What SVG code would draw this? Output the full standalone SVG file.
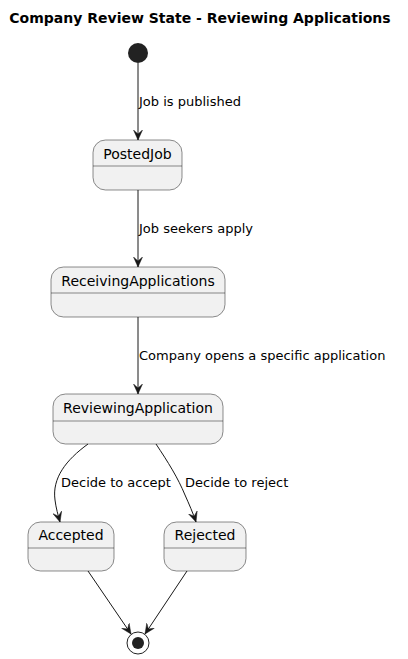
<svg xmlns="http://www.w3.org/2000/svg" width="408" height="659" viewBox="0 0 408 659">
<defs>
<style>
.st{fill:#F1F1F1;stroke:#181818;stroke-width:0.5}
.dv{stroke:#181818;stroke-width:0.5}
.nm{font-family:"DejaVu Sans",sans-serif;font-size:14px;fill:#000;text-anchor:middle}
.lb{font-family:"DejaVu Sans",sans-serif;font-size:13px;fill:#000}
.ln{fill:none;stroke:#181818;stroke-width:1}
.title{font-family:"DejaVu Sans",sans-serif;font-size:14px;font-weight:bold;fill:#000;text-anchor:middle}
</style>
<marker id="ah" viewBox="0 0 10 10" refX="10" refY="5" markerWidth="10" markerHeight="10" markerUnits="userSpaceOnUse" orient="auto">
<polygon points="0,0.5 10,5 0,9.5 4,5" fill="#181818" stroke="#181818" stroke-width="0.5"/>
</marker>
</defs>
<rect width="408" height="659" fill="#FFFFFF"/>
<text class="title" x="200" y="23">Company Review State - Reviewing Applications</text>

<g id="start"><circle cx="138" cy="53" r="10" fill="#222222"/></g>

<g id="PostedJob">
<rect class="st" x="93" y="140" width="89" height="50" rx="12.5"/>
<line class="dv" x1="93" y1="166" x2="182" y2="166"/>
<text class="nm" x="137.5" y="159">PostedJob</text>
</g>

<g id="ReceivingApplications">
<rect class="st" x="51" y="267" width="174" height="50" rx="12.5"/>
<line class="dv" x1="51" y1="293" x2="225" y2="293"/>
<text class="nm" x="138" y="286">ReceivingApplications</text>
</g>

<g id="ReviewingApplication">
<rect class="st" x="53" y="394" width="170" height="50" rx="12.5"/>
<line class="dv" x1="53" y1="421" x2="223" y2="421"/>
<text class="nm" x="138" y="413">ReviewingApplication</text>
</g>

<g id="Accepted">
<rect class="st" x="28" y="522" width="86" height="49" rx="12.5"/>
<line class="dv" x1="28" y1="548" x2="114" y2="548"/>
<text class="nm" x="71" y="540">Accepted</text>
</g>

<g id="Rejected">
<rect class="st" x="164" y="522" width="82" height="49" rx="12.5"/>
<line class="dv" x1="164" y1="548" x2="246" y2="548"/>
<text class="nm" x="205" y="540">Rejected</text>
</g>

<g id="end">
<circle cx="138" cy="643" r="11" fill="none" stroke="#222222" stroke-width="1"/>
<circle cx="138" cy="643" r="6" fill="#222222"/>
</g>

<g id="connectors">
<path class="ln" d="M138,63 L138,140" marker-end="url(#ah)"/>
<text class="lb" x="139" y="106">Job is published</text>
<path class="ln" d="M138,190 L138,267" marker-end="url(#ah)"/>
<text class="lb" x="139" y="233">Job seekers apply</text>
<path class="ln" d="M138,317 L138,394" marker-end="url(#ah)"/>
<text class="lb" x="139" y="360">Company opens a specific application</text>
<path class="ln" d="M88,444 C66,460 52,478 55,500 C56,508 58,515 60,522" marker-end="url(#ah)"/>
<text class="lb" x="61" y="487">Decide to accept</text>
<path class="ln" d="M156,444 C168,462 178,478 185,495 C189,504 193,513 196,522" marker-end="url(#ah)"/>
<text class="lb" x="185" y="487">Decide to reject</text>
<path class="ln" d="M88,571 L131,634" marker-end="url(#ah)"/>
<path class="ln" d="M187,571 L145,634" marker-end="url(#ah)"/>
</g>
</svg>
